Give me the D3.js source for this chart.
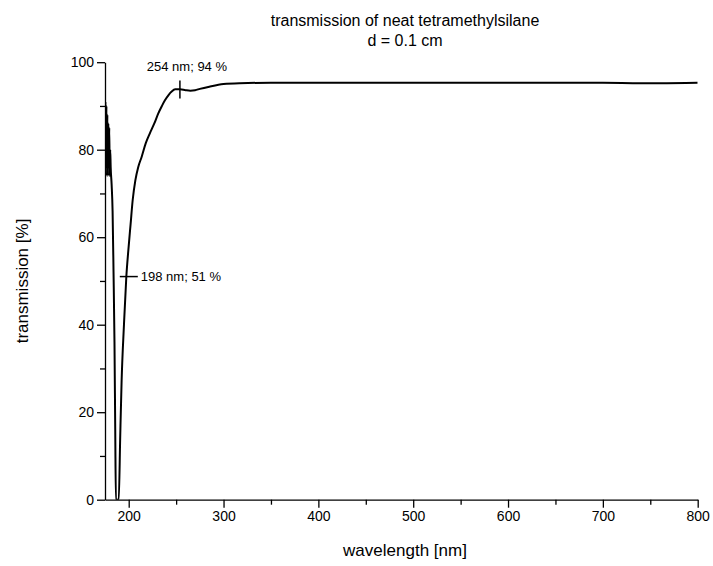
<!DOCTYPE html>
<html><head><meta charset="utf-8">
<script src="https://cdn.jsdelivr.net/npm/d3@7"></script>
<style>body{margin:0;background:#fff}svg{font-family:"Liberation Sans",Arial,sans-serif}</style>
</head><body><svg id="c" width="713" height="566"></svg>
<script>
const wavelength = [175,175.5,176,176.5,177,177.5,178,178.5,179,179.5,180,180.5,181,182,183,184,185,185.8,186.5,188,189.5,191,192.5,195,197.5,199.6,202,204.2,207,210,213.7,218,222.4,227,231.2,235,238.2,242,245.3,249,254,260,265,270,275,285,300,317,350,400,500,600,700,740,760,800];
const transmission = [80,91,74,90,76,88,74,86,78,85,74,80,76,72,66,52,36,16,0,0,0,14,27,40,51,57,63,68.5,73,76,78.4,81.5,83.8,86,88.3,90,91.3,92.5,93.3,93.8,93.8,93.6,93.5,93.6,93.9,94.4,95,95.2,95.3,95.3,95.3,95.3,95.3,95.2,95.2,95.3];
const xMajorTicks = [200,300,400,500,600,700,800];
const xMinorTicks = [250,350,450,550,650,750];
const yMajorTicks = [0,20,40,60,80,100];
const yMinorTicks = [10,30,50,70,90];
const markers = [{nm:198, pct:51, label:"198 nm; 51 %"},{nm:254, pct:94, label:"254 nm; 94 %"}];

const svg = d3.select("#c");
const L=105,R=697.7,T=62.2,B=499.7;
const x = d3.scaleLinear().domain([175,800]).range([L,R]);
const y = d3.scaleLinear().domain([0,100]).range([B,T]);

svg.append("defs").append("clipPath").attr("id","clip").append("rect")
  .attr("x",L).attr("y",T-20).attr("width",R-L).attr("height",B-T+20);

const data = wavelength.map((w,i)=>[w,transmission[i]]);
svg.append("path").datum(data).attr("clip-path","url(#clip)")
  .attr("fill","none").attr("stroke","#000").attr("stroke-width",2).attr("stroke-linejoin","round")
  .attr("d", d3.line().x(d=>x(d[0])).y(d=>y(d[1])).curve(d3.curveMonotoneX));

// axes
const xa = svg.append("g").attr("transform",`translate(0,${B})`)
  .call(d3.axisBottom(x).tickValues(xMajorTicks).tickSize(8).tickSizeOuter(0).tickPadding(3));
svg.append("g").attr("transform",`translate(0,${B})`)
  .call(d3.axisBottom(x).tickValues(xMinorTicks).tickSize(5).tickFormat(""))
  .call(g=>g.select(".domain").remove());
const ya = svg.append("g").attr("transform",`translate(${L},0)`)
  .call(d3.axisLeft(y).tickValues(yMajorTicks).tickSize(8).tickSizeOuter(0).tickPadding(3));
svg.append("g").attr("transform",`translate(${L},0)`)
  .call(d3.axisLeft(y).tickValues(yMinorTicks).tickSize(5).tickFormat(""))
  .call(g=>g.select(".domain").remove());
svg.selectAll(".tick text").attr("font-size",14).attr("fill","#000").attr("font-family","Liberation Sans, Arial, sans-serif");
svg.selectAll(".domain,.tick line").attr("stroke","#000").attr("stroke-width",1.3);

// markers
const m0 = markers[0];
svg.append("line").attr("x1",x(m0.nm)-7).attr("x2",x(m0.nm)+11).attr("y1",y(m0.pct)).attr("y2",y(m0.pct)).attr("stroke","#000").attr("stroke-width",1.5);
svg.append("text").attr("x",x(m0.nm)+14).attr("y",y(m0.pct)).attr("dy","0.35em").attr("font-size",13).text(m0.label);
const m1 = markers[1];
svg.append("line").attr("x1",x(m1.nm)).attr("x2",x(m1.nm)).attr("y1",y(m1.pct)-8).attr("y2",y(m1.pct)+10).attr("stroke","#000").attr("stroke-width",1.5);
svg.append("text").attr("x",x(m1.nm)+7).attr("y",y(m1.pct)-17).attr("text-anchor","middle").attr("font-size",13).text(m1.label);

// titles
svg.append("text").attr("x",405).attr("y",26).attr("text-anchor","middle").attr("font-size",16).text("transmission of neat tetramethylsilane");
svg.append("text").attr("x",405).attr("y",46).attr("text-anchor","middle").attr("font-size",16).text("d = 0.1 cm");
svg.append("text").attr("x",405).attr("y",556).attr("text-anchor","middle").attr("font-size",17).text("wavelength [nm]");
svg.append("text").attr("transform","translate(28,281) rotate(-90)").attr("text-anchor","middle").attr("font-size",17).text("transmission [%]");
</script></body></html>
